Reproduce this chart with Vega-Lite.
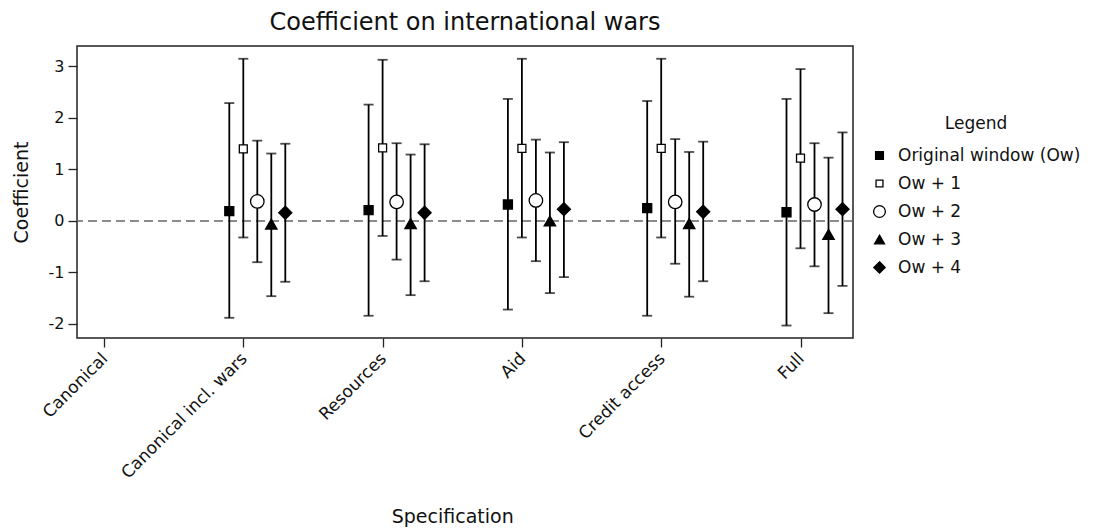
{
  "$schema": "https://vega.github.io/schema/vega-lite/v6.json",
  "width": 776,
  "height": 292,
  "autosize": {"type": "none"},
  "padding": {"left": 77, "top": 46, "right": 240, "bottom": 193},
  "title": {"text": "Coefficient on international wars", "fontSize": 24, "font": "DejaVu Sans", "fontWeight": "normal", "color": "#111", "anchor": "middle", "frame": "group", "baseline": "bottom", "offset": -13},
  "data": {
    "values": [
      {"spec": "Canonical incl. wars", "series": "Original window (Ow)", "coef": 0.19, "lo": -1.88, "hi": 2.29},
      {"spec": "Canonical incl. wars", "series": "Ow + 1", "coef": 1.40, "lo": -0.32, "hi": 3.15},
      {"spec": "Canonical incl. wars", "series": "Ow + 2", "coef": 0.38, "lo": -0.80, "hi": 1.56},
      {"spec": "Canonical incl. wars", "series": "Ow + 3", "coef": -0.06, "lo": -1.46, "hi": 1.31},
      {"spec": "Canonical incl. wars", "series": "Ow + 4", "coef": 0.16, "lo": -1.18, "hi": 1.50},
      {"spec": "Resources", "series": "Original window (Ow)", "coef": 0.21, "lo": -1.84, "hi": 2.26},
      {"spec": "Resources", "series": "Ow + 1", "coef": 1.42, "lo": -0.29, "hi": 3.13},
      {"spec": "Resources", "series": "Ow + 2", "coef": 0.37, "lo": -0.75, "hi": 1.51},
      {"spec": "Resources", "series": "Ow + 3", "coef": -0.05, "lo": -1.44, "hi": 1.29},
      {"spec": "Resources", "series": "Ow + 4", "coef": 0.16, "lo": -1.17, "hi": 1.49},
      {"spec": "Aid", "series": "Original window (Ow)", "coef": 0.32, "lo": -1.72, "hi": 2.37},
      {"spec": "Aid", "series": "Ow + 1", "coef": 1.41, "lo": -0.32, "hi": 3.15},
      {"spec": "Aid", "series": "Ow + 2", "coef": 0.40, "lo": -0.78, "hi": 1.58},
      {"spec": "Aid", "series": "Ow + 3", "coef": 0.00, "lo": -1.40, "hi": 1.33},
      {"spec": "Aid", "series": "Ow + 4", "coef": 0.23, "lo": -1.09, "hi": 1.53},
      {"spec": "Credit access", "series": "Original window (Ow)", "coef": 0.25, "lo": -1.84, "hi": 2.33},
      {"spec": "Credit access", "series": "Ow + 1", "coef": 1.41, "lo": -0.32, "hi": 3.15},
      {"spec": "Credit access", "series": "Ow + 2", "coef": 0.37, "lo": -0.83, "hi": 1.59},
      {"spec": "Credit access", "series": "Ow + 3", "coef": -0.05, "lo": -1.47, "hi": 1.34},
      {"spec": "Credit access", "series": "Ow + 4", "coef": 0.18, "lo": -1.17, "hi": 1.54},
      {"spec": "Full", "series": "Original window (Ow)", "coef": 0.17, "lo": -2.03, "hi": 2.37},
      {"spec": "Full", "series": "Ow + 1", "coef": 1.22, "lo": -0.53, "hi": 2.95},
      {"spec": "Full", "series": "Ow + 2", "coef": 0.32, "lo": -0.88, "hi": 1.51},
      {"spec": "Full", "series": "Ow + 3", "coef": -0.26, "lo": -1.79, "hi": 1.23},
      {"spec": "Full", "series": "Ow + 4", "coef": 0.23, "lo": -1.26, "hi": 1.72}
    ]
  },
  "layer": [
    {
      "data": {"values": [{"zero": 0}]},
      "mark": {"type": "rule", "strokeDash": [9, 5], "color": "#666", "strokeWidth": 1.5},
      "encoding": {
        "y": {"field": "zero", "type": "quantitative", "title": "Coefficient",
          "scale": {"domain": [-2.272, 3.398], "nice": false, "zero": false},
          "axis": {"values": [-2, -1, 0, 1, 2, 3], "labelExpr": "'' + datum.value"}}
      }
    },
    {
      "encoding": {
        "x": {"field": "spec", "type": "nominal", "title": "Specification",
          "scale": {"type": "point", "domain": ["Canonical", "Canonical incl. wars", "Resources", "Aid", "Credit access", "Full"], "range": [27, 723.5], "padding": 0},
          "axis": {"labelAngle": -45, "labelOffset": -5}},
        "xOffset": {"field": "series", "type": "nominal",
          "scale": {"type": "point", "domain": ["Original window (Ow)", "Ow + 1", "Ow + 2", "Ow + 3", "Ow + 4"], "range": [-14, 42], "padding": 0}}
      },
      "layer": [
        {
          "mark": {"type": "rule", "color": "black", "strokeWidth": 1.8},
          "encoding": {
            "y": {"field": "lo", "type": "quantitative", "title": "Coefficient"},
            "y2": {"field": "hi"}
          }
        },
        {
          "mark": {"type": "tick", "color": "black", "thickness": 1.8, "size": 10, "orient": "horizontal"},
          "encoding": {"y": {"field": "lo", "type": "quantitative", "title": "Coefficient"}}
        },
        {
          "mark": {"type": "tick", "color": "black", "thickness": 1.8, "size": 10, "orient": "horizontal"},
          "encoding": {"y": {"field": "hi", "type": "quantitative", "title": "Coefficient"}}
        },
        {
          "mark": {"type": "point", "filled": true, "stroke": "black", "strokeWidth": 1.3, "opacity": 1, "size": 225},
          "encoding": {
            "y": {"field": "coef", "type": "quantitative", "title": "Coefficient"},
            "shape": {"field": "series", "type": "nominal", "title": "Legend",
              "scale": {"domain": ["Original window (Ow)", "Ow + 1", "Ow + 2", "Ow + 3", "Ow + 4"],
                "range": [
                  "M-0.6,-0.6H0.6V0.6H-0.6Z",
                  "M-0.53,-0.53H0.53V0.53H-0.53Z",
                  "M0.9,0A0.9,0.9 0 1,1 -0.9,0A0.9,0.9 0 1,1 0.9,0Z",
                  "M0,-0.66L0.76,0.66L-0.76,0.66Z",
                  "M0,-0.87L0.87,0L0,0.87L-0.87,0Z"
                ]},
              "legend": {"symbolStrokeColor": "black", "symbolStrokeWidth": 1.3,
                "encode": {"symbols": {"update": {"stroke": {"value": "black"}, "strokeWidth": {"value": 1.3}}}}}},
            "fill": {"field": "series", "type": "nominal", "title": "Legend",
              "scale": {"domain": ["Original window (Ow)", "Ow + 1", "Ow + 2", "Ow + 3", "Ow + 4"], "range": ["#000000", "#ffffff", "#ffffff", "#000000", "#000000"]},
              "legend": {"symbolStrokeColor": "black", "symbolStrokeWidth": 1.3,
                "encode": {"symbols": {"update": {"stroke": {"value": "black"}, "strokeWidth": {"value": 1.3}}}}}}
          }
        }
      ]
    }
  ],
  "config": {
    "font": "DejaVu Sans",
    "view": {"stroke": "#222", "strokeWidth": 1.5},
    "axis": {"domain": false, "grid": false, "ticks": true, "tickColor": "#222", "tickSize": 9, "tickWidth": 1.3,
      "labelFont": "DejaVu Sans", "labelColor": "#111", "titleFont": "DejaVu Sans", "titleFontWeight": "normal", "titleColor": "#111", "titleFontSize": 19},
    "axisY": {"labelFontSize": 16, "labelPadding": 4, "titlePadding": 17},
    "axisX": {"labelFontSize": 17, "labelPadding": 3, "titlePadding": 26},
    "legend": {"orient": "none", "legendX": 794, "legendY": 70, "padding": 0,
      "titleFont": "DejaVu Sans", "titleFontSize": 17, "titleFontWeight": "normal", "titleColor": "#111", "titleAnchor": "middle", "titleAlign": "center", "titlePadding": 14,
      "labelFont": "DejaVu Sans", "labelFontSize": 17, "labelColor": "#111", "labelOffset": 10, "labelLimit": 0, "rowPadding": 10,
      "symbolSize": 170, "symbolStrokeColor": "black", "symbolStrokeWidth": 1.3, "symbolOpacity": 1,
      "symbolType": "square"}
  }
}
